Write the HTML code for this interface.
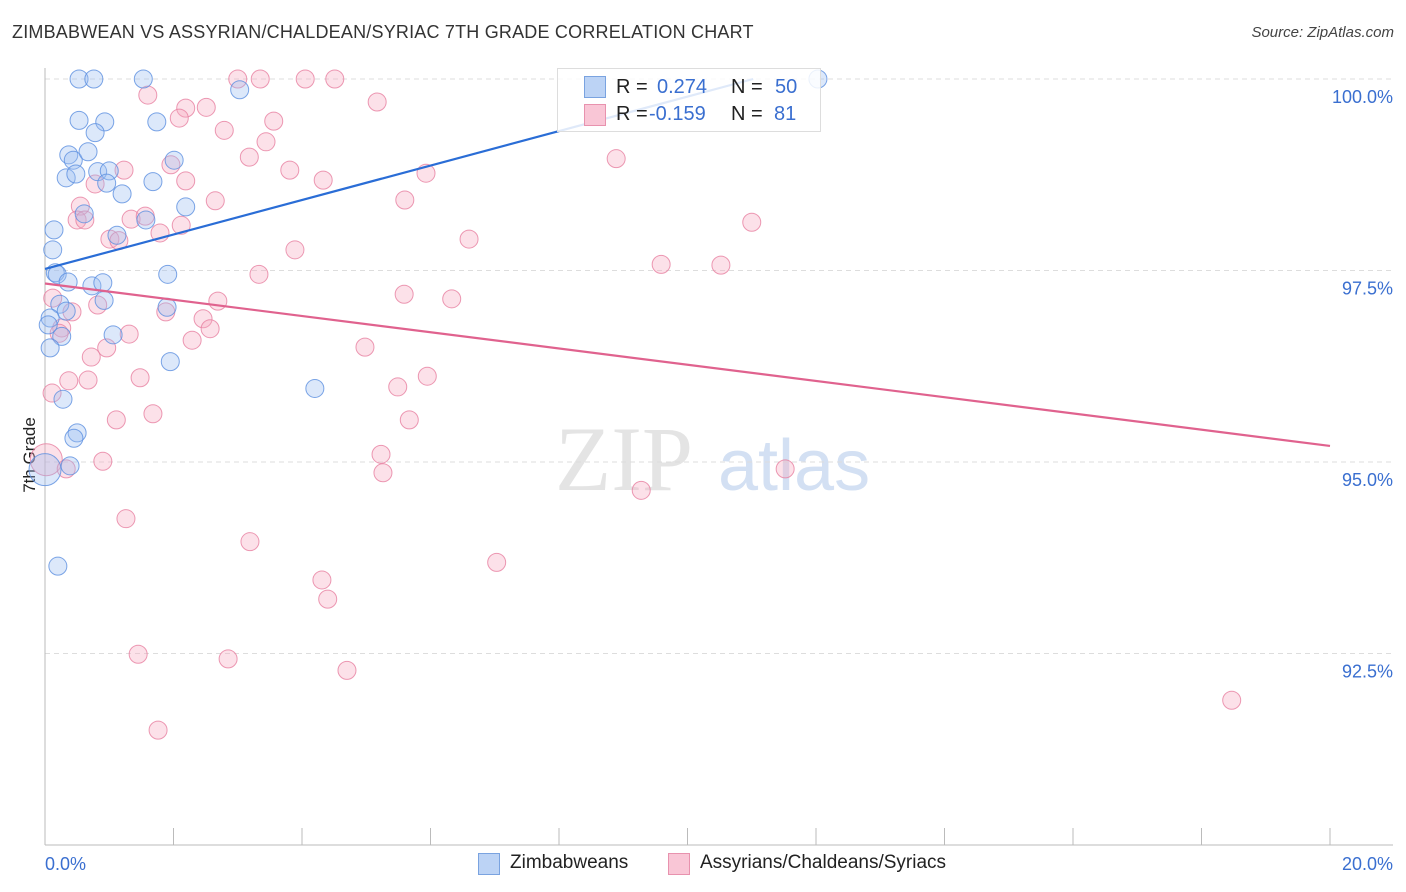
<!DOCTYPE html>
<html><head><meta charset="utf-8"><style>
body{margin:0;background:#fff;font-family:"Liberation Sans",sans-serif;}
#wrap{position:relative;width:1406px;height:892px;overflow:hidden;}
.t{position:absolute;white-space:nowrap;}
</style></head><body>
<div id="wrap">
<div class="t" style="left:12px;top:22px;font-size:18px;color:#333;letter-spacing:0.2px">ZIMBABWEAN VS ASSYRIAN/CHALDEAN/SYRIAC 7TH GRADE CORRELATION CHART</div>
<div class="t" style="right:12px;top:24px;font-size:15px;color:#444;font-style:italic">Source: ZipAtlas.com</div>
<div class="t" style="left:-8px;top:445px;font-size:17px;color:#222;transform:rotate(-90deg)">7th Grade</div>
<svg id="svg" width="1406" height="892" style="position:absolute;left:0;top:0"></svg>
<div style="position:absolute;left:557px;top:68px;width:262px;height:62px;background:rgba(255,255,255,0.85);border:1px solid #ddd;font-size:20px;">
 <div style="position:absolute;left:26px;top:7px;width:20px;height:20px;background:#bcd3f5;border:1px solid #7aa3e0"></div>
 <div class="t" style="left:58px;top:7px;color:#222">R = </div><div class="t" style="left:99px;top:7px;color:#3a6fd0">0.274</div>
 <div class="t" style="left:173px;top:7px;color:#222">N = </div><div class="t" style="left:217px;top:7px;color:#3a6fd0">50</div>
 <div style="position:absolute;left:26px;top:35px;width:20px;height:20px;background:#f9c6d6;border:1px solid #e892ae"></div>
 <div class="t" style="left:58px;top:34px;color:#222">R = </div><div class="t" style="left:91px;top:34px;color:#3a6fd0">-0.159</div>
 <div class="t" style="left:173px;top:34px;color:#222">N = </div><div class="t" style="left:216px;top:34px;color:#3a6fd0">81</div>
</div>
<div style="position:absolute;left:478px;top:852px;font-size:19px;color:#222">
 <div style="position:absolute;left:0;top:1px;width:20px;height:20px;background:#bcd3f5;border:1px solid #7aa3e0"></div>
 <div class="t" style="left:32px;top:0">Zimbabweans</div>
 <div style="position:absolute;left:190px;top:1px;width:20px;height:20px;background:#f9c6d6;border:1px solid #e892ae"></div>
 <div class="t" style="left:222px;top:0">Assyrians/Chaldeans/Syriacs</div>
</div>
</div>
<script>
const xTicks=[0,20];
const yTicks=[100,97.5,95,92.5];
const yTickLabels=["100.0%","97.5%","95.0%","92.5%"];
const xTickLabels=["0.0%","20.0%"];
const blueX=[0.53,0.76,1.53,3.03,12.03,0.53,0.93,1.74,0.78,0.37,0.44,0.67,2.01,0.33,0.48,0.82,1.0,0.96,1.68,1.2,2.19,0.61,1.57,1.12,0.14,0.12,0.16,0.19,1.91,0.36,0.73,0.9,0.92,0.23,0.33,1.9,0.08,0.05,0.26,1.06,0.08,1.95,4.2,0.28,0.5,0.45,0.39,0.0,0.2];
const blueY=[100,100,100,99.86,100,99.46,99.44,99.44,99.3,99.01,98.94,99.05,98.94,98.71,98.76,98.79,98.8,98.64,98.66,98.5,98.33,98.24,98.16,97.96,98.03,97.77,97.47,97.45,97.45,97.35,97.3,97.34,97.11,97.06,96.97,97.02,96.88,96.79,96.64,96.66,96.49,96.31,95.96,95.82,95.38,95.31,94.95,94.9,93.64];
const pinkX=[3.0,3.35,4.05,4.51,1.6,2.19,2.51,5.17,2.09,3.56,2.79,3.44,3.18,8.89,1.96,1.23,3.81,5.93,0.78,2.19,4.33,2.65,5.6,0.55,0.5,0.62,1.34,1.56,2.12,1.79,11.0,1.01,1.15,6.6,3.89,9.59,10.52,3.33,0.12,5.59,6.33,2.69,0.82,0.42,1.88,2.46,0.26,0.22,2.57,1.31,2.29,4.98,0.96,0.72,5.95,1.48,0.37,0.67,5.49,0.11,1.68,1.11,5.67,5.23,0.9,0.02,5.26,0.33,11.52,9.28,1.26,3.19,7.03,4.31,4.4,1.45,2.85,4.7,18.47,1.76];
const pinkY=[100,100,100,100,99.79,99.62,99.63,99.7,99.49,99.45,99.33,99.18,98.98,98.96,98.88,98.81,98.81,98.77,98.63,98.67,98.68,98.41,98.42,98.34,98.16,98.16,98.17,98.21,98.09,97.99,98.13,97.91,97.89,97.91,97.77,97.58,97.57,97.45,97.14,97.19,97.13,97.1,97.05,96.96,96.96,96.87,96.75,96.68,96.74,96.67,96.59,96.5,96.49,96.37,96.12,96.1,96.06,96.07,95.98,95.9,95.63,95.55,95.55,95.1,95.01,95.03,94.86,94.91,94.91,94.63,94.26,93.96,93.69,93.46,93.21,92.49,92.43,92.28,91.89,91.5];
const blueTrend=[97.52,0.225];
const pinkTrend=[97.33,-0.106];
const X=v=>45+v*64.25, Y=v=>79+(100-v)*76.6;
const svg=document.getElementById('svg');const NS='http://www.w3.org/2000/svg';
function mk(tag,attrs){const e=document.createElementNS(NS,tag);for(const k in attrs)e.setAttribute(k,attrs[k]);svg.appendChild(e);return e;}
// watermark
let w=mk('text',{x:555,y:490,'font-size':92,fill:'#e4e4e4','font-family':'Liberation Serif, serif'});w.textContent='ZIP';


w=mk('text',{x:718,y:490,'font-size':72,fill:'#d3e0f3','font-family':'Liberation Sans, sans-serif'});w.textContent='atlas';


yTicks.forEach((v,i)=>{
 const g=mk('line',{x1:45,x2:1393,y1:Y(v),y2:Y(v),stroke:'#ddd','stroke-dasharray':'5,4'});
 
 
 const t=mk('text',{x:1393,y:Y(v)+24,'text-anchor':'end','font-size':18,fill:'#3a6fd0','font-family':'Liberation Sans, sans-serif'});t.textContent=yTickLabels[i];
 
 
});
let ax=mk('line',{x1:45,x2:45,y1:68,y2:845,stroke:'#bbb'});


ax=mk('line',{x1:45,x2:1393,y1:845,y2:845,stroke:'#bbb'});


for(let i=0;i<=10;i++){const v=i*2;const tk=mk('line',{x1:X(v)+(i==0?0:0),x2:X(v),y1:828,y2:845,stroke:'#bbb'});
 
 }
xTicks.forEach((v,i)=>{const t=mk('text',{x:i==0?X(v):1393,y:870,'text-anchor':i==0?'start':'end','font-size':18,fill:'#3a6fd0','font-family':'Liberation Sans, sans-serif'});t.textContent=xTickLabels[i];
 
 });
function dots(xs,ys,fill,stroke,name){xs.forEach((x,i)=>{const big=(x===0||x===0.02);const c=mk('circle',{cx:X(x),cy:Y(ys[i]),r:big?16:9,fill:fill,'fill-opacity':0.35,stroke:stroke,'stroke-opacity':0.8,'stroke-width':1});
 
 });}
dots(pinkX,pinkY,'#f6a8c0','#e77fa0','pink-point');
dots(blueX,blueY,'#9cbdf0','#5b8fe0','blue-point');
const bx=(100-blueTrend[0])/blueTrend[1];
let l=mk('line',{x1:X(0),y1:Y(blueTrend[0]),x2:X(bx),y2:Y(100),stroke:'#2a6dd6','stroke-width':2.2});


l=mk('line',{x1:X(0),y1:Y(pinkTrend[0]),x2:X(20),y2:Y(pinkTrend[0]+20*pinkTrend[1]),stroke:'#e0628e','stroke-width':2.2});


</script>
</body></html>
